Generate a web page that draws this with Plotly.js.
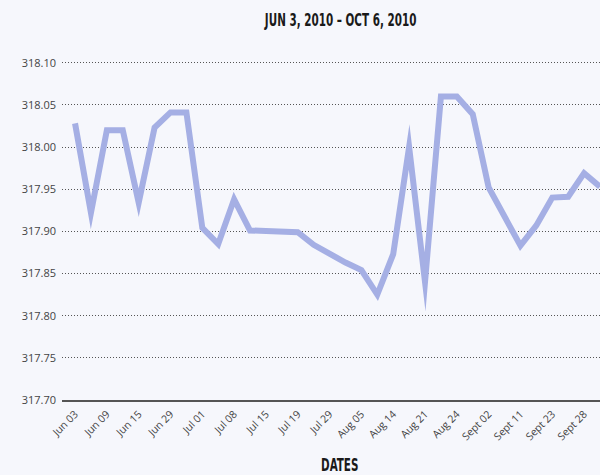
<!DOCTYPE html>
<html>
<head>
<meta charset="utf-8">
<script src="https://cdn.plot.ly/plotly-3.0.1.min.js"></script>
<style>
html, body { margin: 0; padding: 0; background: #f6f7fc; overflow: hidden; }
#chart { width: 600px; height: 475px; }
.js-line { stroke-miterlimit: 100 !important; }
text.gtitle, text.annotation-text { transform-box: fill-box; transform-origin: center; transform: scaleX(0.68); }
</style>
</head>
<body>
<div id="chart"></div>
<script>
// Data
const tickLabels = ["Jun 03", "Jun 09", "Jun 15", "Jun 29", "Jul 01", "Jul 08", "Jul 15", "Jul 19",
  "Jul 29", "Aug 05", "Aug 14", "Aug 21", "Aug 24", "Sept 02", "Sept 11", "Sept 23", "Sept 28"];
const values = [318.028, 317.922, 318.020, 318.020, 317.934, 318.023, 318.041, 318.041,
  317.904, 317.885, 317.938, 317.901, 317.9005, 317.900, 317.899, 317.884, 317.873, 317.863,
  317.854, 317.825, 317.873, 318.000, 317.840, 318.060, 318.060, 318.039, 317.952, 317.918,
  317.883, 317.907, 317.940, 317.941, 317.969, 317.953];
const yTicks = [317.70, 317.75, 317.80, 317.85, 317.90, 317.95, 318.00, 318.05, 318.10];
const pointIndex = values.map((v, i) => i);
const tickIndex = tickLabels.map((t, i) => i * 2);

const titleFont = { family: 'Liberation Sans Narrow, DejaVu Sans Condensed, sans-serif', size: 17, weight: 700, color: '#1a1a1a' };

const trace = {
  x: pointIndex,
  y: values,
  type: 'scatter',
  mode: 'lines',
  line: { color: '#a5afe4', width: 6 },
  hoverinfo: 'skip'
};

const layout = {
  width: 600,
  height: 475,
  paper_bgcolor: '#f6f7fc',
  plot_bgcolor: '#f6f7fc',
  margin: { l: 62, r: 0, t: 61, b: 75 },
  showlegend: false,
  title: {
    text: 'JUN 3, 2010 – OCT 6, 2010',
    font: titleFont,
    x: 0.568, xref: 'container', xanchor: 'center',
    y: 0.957, yref: 'container', yanchor: 'middle'
  },
  xaxis: {
    range: [-0.82, 33.0],
    tickvals: tickIndex,
    ticktext: tickLabels,
    tickangle: -45,
    tickfont: { family: 'Open Sans, sans-serif', size: 10.5, color: '#444' },
    ticklabelstandoff: 2,
    showgrid: false,
    zeroline: false,
    showline: true,
    linecolor: '#555',
    linewidth: 2,
    ticks: ''
  },
  yaxis: {
    range: [317.70, 318.102],
    tickvals: yTicks,
    tickformat: '.2f',
    tickfont: { family: 'Open Sans, sans-serif', size: 11, color: '#444' },
    ticklabelstandoff: 5,
    showgrid: true,
    gridcolor: '#555',
    griddash: '1px,2px',
    gridwidth: 1,
    zeroline: false,
    showline: false,
    ticks: ''
  },
  annotations: [{
    text: 'DATES',
    xref: 'paper', yref: 'paper',
    x: 0.515, y: 0, xanchor: 'center', yanchor: 'middle', yshift: -65,
    showarrow: false,
    font: titleFont
  }]
};

Plotly.newPlot('chart', [trace], layout, { displayModeBar: false, staticPlot: true }).then(() => {
  document.querySelectorAll('path.js-line').forEach(p => { p.style.strokeMiterlimit = '100'; });
});
</script>
</body>
</html>
